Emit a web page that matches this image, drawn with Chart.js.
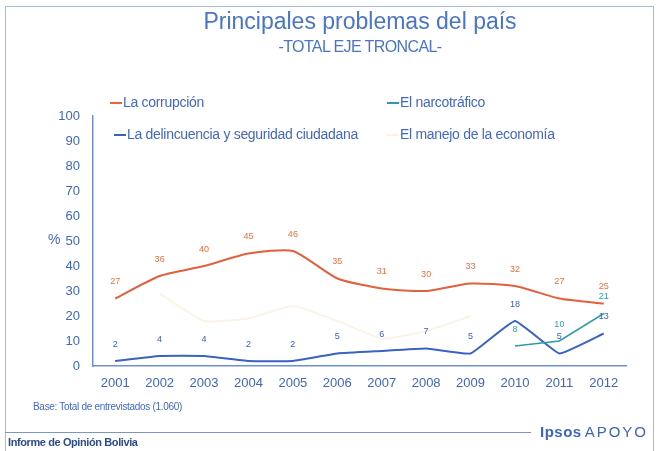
<!DOCTYPE html>
<html>
<head>
<meta charset="utf-8">
<script src="https://cdn.jsdelivr.net/npm/chart.js@4.4.1/dist/chart.umd.min.js"></script>
<style>
  html, body { margin: 0; padding: 0; background: #fff; }
  #wrap { position: relative; width: 657px; height: 451px; overflow: hidden; font-family: "Liberation Sans", Arial, sans-serif; color: #4468c0; }
  #chart { position: absolute; left: 0; top: 0; }
  .frame { position: absolute; left: 5px; top: 6px; width: 647px; height: 460px; border: 1px solid #a6bde3; }
  .t { position: absolute; white-space: nowrap; }
  .title { left: 0; width: 720px; top: 8px; text-align: center; font-size: 23px; color: #4a74c8; }
  .sub { left: 0; width: 720px; top: 38px; text-align: center; font-size: 16px; color: #4a74c8; letter-spacing: -0.6px; }
  .leg { font-size: 14px; color: #4468c0; letter-spacing: -0.3px; }
  .leg i { display: inline-block; width: 12px; height: 2px; vertical-align: middle; margin-right: 1px; }
  .pct { left: 48px; top: 231px; font-size: 14px; }
  .base { left: 33px; top: 401px; font-size: 10px; letter-spacing: -0.3px; }
  .rule { position: absolute; left: 5px; top: 432px; width: 526px; height: 1px; background: #7b95c6; }
  .inf { left: 8px; top: 436px; font-size: 11px; font-weight: bold; color: #2c4c8c; letter-spacing: -0.4px; }
  .ipsos { left: 540px; top: 423px; font-size: 15px; color: #3f66b8; }
  .ipsos b { letter-spacing: 0.5px; margin-right: 3px; }
  .ipsos span { letter-spacing: 2px; }
</style>
</head>
<body>
<div id="wrap">
  <canvas id="chart" width="657" height="451"></canvas>
  <div class="frame"></div>
  <div class="t title">Principales problemas del país</div>
  <div class="t sub">-TOTAL EJE TRONCAL-</div>
  <div class="t leg" style="left:110px;top:94px"><i style="background:#e8653f"></i>La corrupción</div>
  <div class="t leg" style="left:387px;top:94px"><i style="background:#2f9aa8"></i>El narcotráfico</div>
  <div class="t leg" style="left:114px;top:126px"><i style="background:#3a62c0"></i>La delincuencia y seguridad ciudadana</div>
  <div class="t leg" style="left:387px;top:126px"><i style="background:#faf2de"></i>El manejo de la economía</div>
  <div class="t pct">%</div>
  <div class="t base">Base: Total de entrevistados (1.060)</div>
  <div class="rule"></div>
  <div class="t inf">Informe de Opinión Bolivia</div>
  <div class="t ipsos"><b>Ipsos</b><span>APOYO</span></div>
</div>
<script>
"use strict";

const years = ["2001", "2002", "2003", "2004", "2005", "2006", "2007", "2008", "2009", "2010", "2011", "2012"];
const corrupcion = [27, 36, 40, 45, 46, 35, 31, 30, 33, 32, 27, 25];
const delincuencia = [2, 4, 4, 2, 2, 5, 6, 7, 5, 18, 5, 13];
const narcotrafico = [null, null, null, null, null, null, null, null, null, 8, 10, 21];
const economia = [null, 29, 18, 19, 24, 18, 11, 14, 20, null, null, null];
const yTicks = [0, 10, 20, 30, 40, 50, 60, 70, 80, 90, 100];

const FONT = "'Liberation Sans', Arial, sans-serif";

// draws the value above each point, in the series colour
const valueLabels = {
    id: "valueLabels",
    afterDatasetsDraw(chart) {
        const ctx = chart.ctx;
        ctx.save();
        ctx.font = "9px " + FONT;
        ctx.textAlign = "center";
        ctx.textBaseline = "bottom";
        chart.data.datasets.forEach((ds, i) => {
            if (!ds.showLabels) return;
            const meta = chart.getDatasetMeta(i);
            meta.data.forEach((pt, j) => {
                const v = ds.data[j];
                if (v === null) return;
                ctx.fillStyle = ds.labelColor;
                ctx.fillText(String(v), pt.x, pt.y - (ds.labelGap || 10));
            });
        });
        ctx.restore();
    }
};

const ctx = document.getElementById("chart").getContext("2d");
new Chart(ctx, {
    type: "line",
    data: {
        labels: years,
        datasets: [
            {
                label: "El manejo de la economía",
                data: economia,
                borderColor: "#faf4e4",
                borderWidth: 2,
                pointRadius: 0,
                tension: 0.15,
                showLabels: false
            },
            {
                label: "La corrupción",
                data: corrupcion,
                borderColor: "#e2603e",
                borderWidth: 2,
                pointRadius: 0,
                tension: 0.2,
                showLabels: true,
                labelColor: "#e8703f",
                labelGap: 12
            },
            {
                label: "El narcotráfico",
                data: narcotrafico,
                borderColor: "#2f9aa8",
                borderWidth: 1.5,
                pointRadius: 0,
                tension: 0,
                showLabels: true,
                labelColor: "#2f9ab0",
                labelGap: 12
            },
            {
                label: "La delincuencia y seguridad ciudadana",
                data: delincuencia,
                borderColor: "#3a62c0",
                borderWidth: 2,
                pointRadius: 0,
                tension: 0.1,
                showLabels: true,
                labelColor: "#3a62c0",
                labelGap: 12
            }
        ]
    },
    options: {
        responsive: false,
        animation: false,
        layout: { padding: { left: 0, right: 31, top: 116, bottom: 0 } },
        plugins: {
            legend: { display: false },
            tooltip: { enabled: false }
        },
        scales: {
            x: {
                offset: true,
                grid: { display: false, drawTicks: false },
                border: { display: true, color: "#6f8fd0", width: 1.5 },
                ticks: {
                    color: "#3f66c0",
                    padding: 10,
                    font: { family: FONT, size: 13 },
                    maxRotation: 0
                },
                afterFit: s => { s.height = 85; }
            },
            y: {
                min: 0,
                max: 100,
                grid: { display: false, drawTicks: false },
                border: { display: true, color: "#6f8fd0", width: 1.5 },
                afterBuildTicks: s => { s.ticks = yTicks.map(v => ({ value: v })); },
                ticks: {
                    color: "#3f66c0",
                    padding: 13,
                    font: { family: FONT, size: 13 }
                },
                afterFit: s => { s.width = 93; }
            }
        }
    },
    plugins: [valueLabels]
});
</script>
</body>
</html>
